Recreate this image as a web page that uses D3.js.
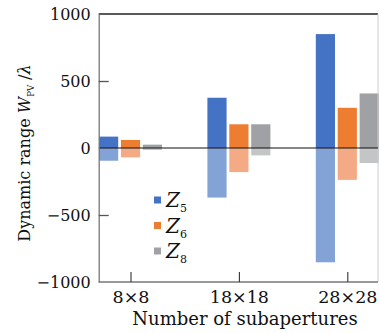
<!doctype html>
<html>
<head>
<meta charset="utf-8">
<title>Dynamic range</title>
<script src="https://cdn.jsdelivr.net/npm/d3@7"></script>
<style>
  body { margin: 0; background: #fff; }
  text { font-family: "DejaVu Serif", "Liberation Serif", serif; fill: #111; }
</style>
</head>
<body>
<script>
// data
var categories = ["8×8", "18×18", "28×28"];
var series = ["Z5", "Z6", "Z8"];
var seriesSub = ["5", "6", "8"];
var posValues = [[85, 375, 850], [60, 177, 300], [25, 177, 407]];
var negValues = [[-95, -370, -853], [-70, -180, -238], [-15, -55, -112]];
var yTicks = [-1000, -500, 0, 500, 1000];

var posColors = ["#4472c4", "#ed7d31", "#a0a1a4"];
var negColors = ["#83a2d6", "#f4aa84", "#c4c5c7"];

var w = 379, h = 333;
var mLeft = 98.7, mRight = 378, mTop = 14, mBottom = 282;

var svg = d3.select("body").append("svg")
  .attr("width", w)
  .attr("height", h);

var y = d3.scaleLinear().domain([-1000, 1000]).range([mBottom, mTop]);
var x0 = d3.scalePoint().domain(categories).range([130.5, 347.3]);
var x1 = d3.scaleBand().domain(series).range([-31.5, 31.5]).paddingInner(0.124);

// bars
series.forEach(function(s, si) {
  var pos = categories.map(function(c, ci) { return {c: c, v: posValues[si][ci]}; });
  var neg = categories.map(function(c, ci) { return {c: c, v: negValues[si][ci]}; });

  svg.append("g").selectAll("rect").data(neg).enter().append("rect")
    .attr("x", function(d) { return x0(d.c) + x1(s); })
    .attr("y", y(0))
    .attr("width", x1.bandwidth())
    .attr("height", function(d) { return y(d.v) - y(0); })
    .attr("fill", negColors[si]);

  svg.append("g").selectAll("rect").data(pos).enter().append("rect")
    .attr("x", function(d) { return x0(d.c) + x1(s); })
    .attr("y", function(d) { return y(d.v); })
    .attr("width", x1.bandwidth())
    .attr("height", function(d) { return y(0) - y(d.v); })
    .attr("fill", posColors[si]);
});

// frame
svg.append("line").attr("x1", mLeft).attr("x2", mRight).attr("y1", mTop).attr("y2", mTop)
  .attr("stroke", "#222").attr("stroke-width", 1.3);
svg.append("line").attr("x1", mRight).attr("x2", mRight).attr("y1", mTop).attr("y2", mBottom)
  .attr("stroke", "#ccc").attr("stroke-width", 1);
svg.append("line").attr("x1", mLeft).attr("x2", mRight).attr("y1", y(0)).attr("y2", y(0))
  .attr("stroke", "#111").attr("stroke-width", 1.1);

// y axis
var yAxis = svg.append("g")
  .attr("transform", "translate(" + mLeft + ",0)")
  .call(d3.axisLeft(y).tickValues(yTicks).tickFormat(d3.format("d"))
    .tickSizeInner(-10).tickSizeOuter(0).tickPadding(8));
yAxis.select(".domain").attr("stroke", "#777").attr("stroke-width", 1.3);
yAxis.selectAll(".tick line").attr("stroke", "#555").attr("stroke-width", 1.3)
  .style("display", function(d) { return (d === 500 || d === -500) ? null : "none"; });
yAxis.selectAll(".tick text").attr("font-size", 16)
  .style("font-family", "DejaVu Serif").attr("fill", "#111");

// x axis
var xAxis = svg.append("g")
  .attr("transform", "translate(0," + mBottom + ")")
  .call(d3.axisBottom(x0).tickSizeInner(-10).tickSizeOuter(0).tickPadding(9));
xAxis.select(".domain").attr("stroke", "#777").attr("stroke-width", 1.3)
  .attr("d", "M" + mLeft + ",0H" + mRight);
xAxis.selectAll(".tick line").attr("stroke", "#333").attr("stroke-width", 1.1);
xAxis.selectAll(".tick text").attr("font-size", 17.5)
  .style("font-family", "DejaVu Serif").attr("fill", "#111");

// axis titles
svg.append("text")
  .attr("x", 245).attr("y", 325)
  .attr("text-anchor", "middle")
  .attr("font-size", 18)
  .text("Number of subapertures");

var yt = svg.append("text")
  .attr("transform", "translate(30,153) rotate(-90)")
  .attr("text-anchor", "middle")
  .attr("font-size", 16);
yt.append("tspan").text("Dynamic range ");
yt.append("tspan").attr("font-style", "italic").text("W");
yt.append("tspan").attr("font-size", 8.5).attr("dy", 4).text("PV");
yt.append("tspan").attr("dy", -4).text(" /");
yt.append("tspan").attr("font-style", "italic").text("λ");

// legend
var legend = svg.append("g");
series.forEach(function(s, i) {
  var ly = 200 + i * 25.5;
  legend.append("rect")
    .attr("x", 154).attr("y", ly - 3.5)
    .attr("width", 7).attr("height", 7)
    .attr("fill", posColors[i]);
  var t = legend.append("text")
    .attr("x", 166).attr("y", ly + 7)
    .attr("font-size", 20);
  t.append("tspan").attr("font-style", "italic").text("Z");
  t.append("tspan").attr("font-size", 11).attr("dy", 5).text(seriesSub[i]);
});
</script>
</body>
</html>
